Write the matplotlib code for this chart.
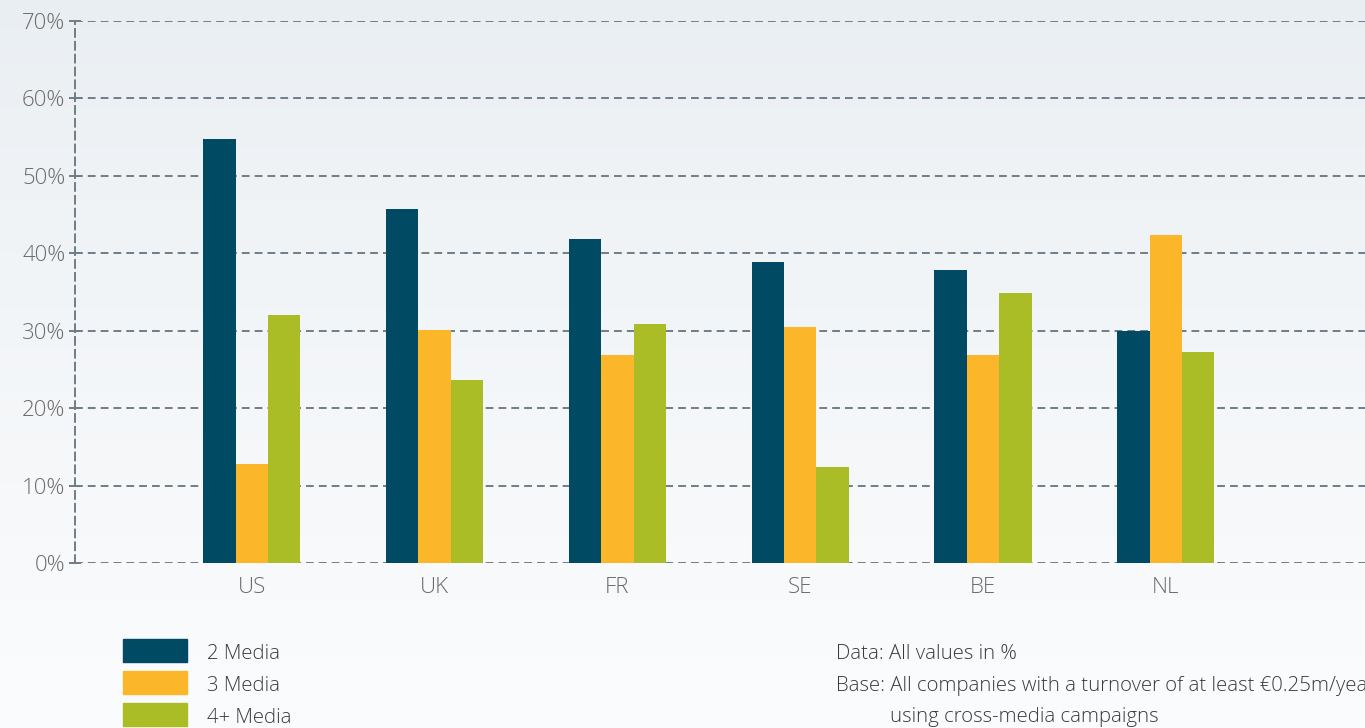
import numpy as np
import matplotlib.pyplot as plt

countries = ["US", "UK", "FR", "SE", "BE", "NL"]
media_2 = [54.7, 45.7, 41.9, 38.9, 37.9, 30.0]
media_3 = [12.8, 30.1, 26.9, 30.5, 26.9, 42.4]
media_4plus = [32.0, 23.6, 30.9, 12.4, 34.9, 27.3]
series_names = ["2 Media", "3 Media", "4+ Media"]
colors = ["#004b63", "#fbb62a", "#aabd27"]
yticks = [0, 10, 20, 30, 40, 50, 60, 70]

plt.rcParams["font.family"] = ["Open Sans", "DejaVu Sans"]
plt.rcParams["font.weight"] = "light"
grid_col = "#6e7d87"
label_col = "#6b6b6b"
text_col = "#3a3a3a"

fig = plt.figure(figsize=(13.65, 7.28), dpi=100)

# soft background gradient
bg = fig.add_axes([0, 0, 1, 1], zorder=-10)
grad = np.linspace(0, 1, 256).reshape(-1, 1)
top = np.array([233, 238, 242]) / 255
bot = np.array([251, 252, 253]) / 255
img = top + (bot - top) * grad[:, :, None] ** 0.8
bg.imshow(img, aspect="auto", extent=[0, 1, 0, 1])
bg.axis("off")

ax = fig.add_axes([0.055, 0.2266, 0.945, 0.7446])
ax.patch.set_alpha(0)

x = np.arange(len(countries))
w = 0.177
for i, (vals, name) in enumerate(zip([media_2, media_3, media_4plus], series_names)):
    ax.bar(x + (i - 1) * w, vals, w, color=colors[i], label=name, zorder=3)

ax.set_xlim(-0.967, 6.09)
ax.set_ylim(0, 70)
ax.set_yticks(yticks)
ax.set_yticklabels([f"{t}%" for t in yticks])
ax.set_xticks(x)
ax.set_xticklabels(countries)

ax.yaxis.grid(True, color=grid_col, linestyle=(0, (4, 2.6)), linewidth=1.4, zorder=1)
for s in ["top", "right", "bottom"]:
    ax.spines[s].set_visible(False)
ax.spines["left"].set_color(grid_col)
ax.spines["left"].set_linewidth(1.4)
ax.spines["left"].set_linestyle((0, (4, 2.6)))
ax.tick_params(axis="y", direction="inout", length=8, width=1.4, color=grid_col,
               labelsize=16, labelcolor=label_col, pad=3)
ax.tick_params(axis="x", length=0, labelsize=16, labelcolor=label_col, pad=10)

# legend drawn as boxes + text
box_y = [650.5, 682.5, 714.5]
txt_y = [654, 686, 718]
for by, ty, c, name in zip(box_y, txt_y, colors, series_names):
    fig.patches.append(plt.Rectangle((123 / 1365, 1 - (by + 11.5) / 728), 64 / 1365, 23 / 728,
                                     transform=fig.transFigure, color=c))
    fig.text(207 / 1365, 1 - ty / 728, name, fontsize=14.7, color=text_col, va="center")

fig.text(836 / 1365, 1 - 654 / 728, "Data: All values in %", fontsize=14.7, color=text_col, va="center")
fig.text(836 / 1365, 1 - 686 / 728, "Base: All companies with a turnover of at least €0.25m/year",
         fontsize=14.7, color=text_col, va="center")
fig.text(890 / 1365, 1 - 717 / 728, "using cross-media campaigns", fontsize=14.7, color=text_col, va="center")

fig.savefig("out.png", dpi=100)
